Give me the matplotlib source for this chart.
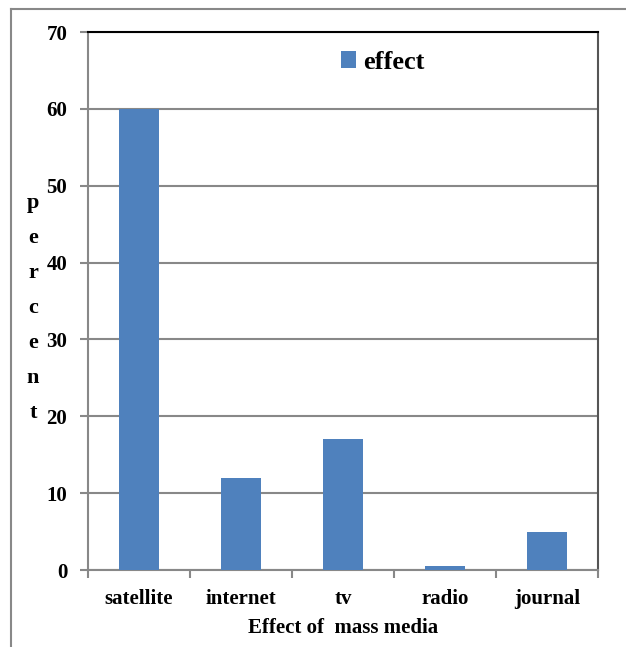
import matplotlib
matplotlib.use("Agg")
import matplotlib.pyplot as plt
from matplotlib.lines import Line2D

categories = ["satellite", "internet", "tv", "radio", "journal"]
effect = [60, 12, 17, 0.5, 5]
yticks = [0, 10, 20, 30, 40, 50, 60, 70]

plt.rcParams['font.family'] = ['Liberation Serif', 'DejaVu Serif']
plt.rcParams['font.weight'] = 'bold'

W, H = 626, 647
fig = plt.figure(figsize=(W/100, H/100), dpi=100)
fig.patch.set_facecolor('white')

left, right, top, bottom = 88, 598, 32, 570
ax = fig.add_axes([left/W, 1 - bottom/H, (right-left)/W, (bottom-top)/H])

x = list(range(len(categories)))
ax.bar(x, effect, width=0.4, color='#4F81BD', zorder=3, label='effect')
ax.set_xlim(-0.5, len(categories) - 0.5)
ax.set_ylim(0, 70)
ax.set_yticks(yticks)
ax.set_yticklabels([str(v) for v in yticks], fontsize=15, fontweight='bold')
ax.set_xticks(x)
ax.set_xticklabels(categories, fontsize=15, fontweight='bold')
ax.set_xticks([i - 0.5 for i in range(len(categories) + 1)], minor=True)
ax.tick_params(axis='x', which='major', length=0, pad=14)
ax.tick_params(axis='x', which='minor', length=6, width=1.5, color='#888888', direction='out')
ax.tick_params(axis='y', length=6, width=1.5, color='#888888', pad=9)
ax.yaxis.grid(True, color='#888888', linewidth=1.5, zorder=0)
ax.set_axisbelow(True)
for s in ['left', 'bottom']:
    ax.spines[s].set_color('#888888')
    ax.spines[s].set_linewidth(1.5)
ax.spines['top'].set_color('black')
ax.spines['top'].set_linewidth(1.5)
ax.spines['right'].set_color('#555555')
ax.spines['right'].set_linewidth(1.5)

ax.set_xlabel('Effect of  mass media', fontsize=15, fontweight='bold', labelpad=6)

leg = ax.legend(loc='upper left', bbox_to_anchor=((330-left)/(right-left), 1 - (40-top)/(bottom-top)),
                frameon=False, prop={'size': 19, 'weight': 'bold'},
                handlelength=0.6, handleheight=0.6, handletextpad=0.25, borderaxespad=0)

fig.text(33/W, 1 - 308/H, '\n'.join('percent'), ha='center', va='center',
         fontsize=16, fontweight='bold', linespacing=2.0)

fig.add_artist(Line2D([11/W, 11/W], [0, 1 - 9/H], color='#888888', linewidth=1.5, transform=fig.transFigure))
fig.add_artist(Line2D([11/W, 1], [1 - 9/H, 1 - 9/H], color='#888888', linewidth=1.5, transform=fig.transFigure))

fig.savefig('out.png', dpi=100)
